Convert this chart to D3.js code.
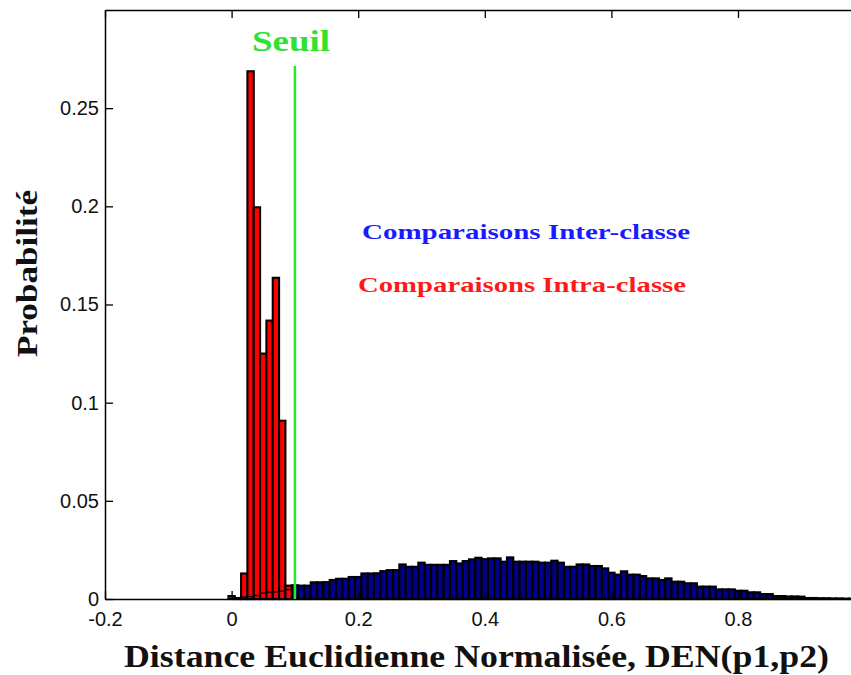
<!DOCTYPE html>
<html>
<head>
<meta charset="utf-8">
<script src="https://cdn.jsdelivr.net/npm/d3@7/dist/d3.min.js"></script>
<style>
  html, body { margin: 0; padding: 0; background: #fff; }
  svg { display: block; }
</style>
</head>
<body>
<svg id="chart" width="851" height="675"></svg>
<script>
// ---- data ----
const binCenters = [0.00,0.01,0.02,0.03,0.04,0.05,0.06,0.07,0.08,0.09,
  0.10,0.11,0.12,0.13,0.14,0.15,0.16,0.17,0.18,0.19,
  0.20,0.21,0.22,0.23,0.24,0.25,0.26,0.27,0.28,0.29,
  0.30,0.31,0.32,0.33,0.34,0.35,0.36,0.37,0.38,0.39,
  0.40,0.41,0.42,0.43,0.44,0.45,0.46,0.47,0.48,0.49,
  0.50,0.51,0.52,0.53,0.54,0.55,0.56,0.57,0.58,0.59,
  0.60,0.61,0.62,0.63,0.64,0.65,0.66,0.67,0.68,0.69,
  0.70,0.71,0.72,0.73,0.74,0.75,0.76,0.77,0.78,0.79,
  0.80,0.81,0.82,0.83,0.84,0.85,0.86,0.87,0.88,0.89,
  0.90,0.91,0.92,0.93,0.94,0.95,0.96,0.97,0.98];

const interValues = [0,0.0003,0.0010,0.0012,0.0018,0.0030,0.0035,0.0036,0.0040,0.0048,
  0.0070,0.0068,0.0068,0.0085,0.0085,0.0086,0.0097,0.0103,0.0103,0.0112,
  0.0112,0.0130,0.0130,0.0131,0.0142,0.0147,0.0147,0.0176,0.0164,0.0164,
  0.0185,0.0174,0.0174,0.0174,0.0174,0.0193,0.0181,0.0193,0.0202,0.0210,
  0.0203,0.0207,0.0207,0.0190,0.0212,0.0190,0.0190,0.0190,0.0190,0.0185,
  0.0185,0.0195,0.0185,0.0164,0.0164,0.0176,0.0176,0.0168,0.0168,0.0156,
  0.0134,0.0124,0.0141,0.0124,0.0124,0.0117,0.0105,0.0105,0.0097,0.0105,
  0.0088,0.0088,0.0080,0.0080,0.0063,0.0063,0.0063,0.0049,0.0049,0.0049,
  0.0042,0.0042,0.0034,0.0034,0.0025,0.0025,0.0015,0.0015,0.0013,0.0013,
  0.0012,0.0005,0.0005,0.0004,0.0004,0.0003,0.0003,0.0002,0.0002];

const intraCenters = [0.00,0.01,0.02,0.03,0.04,0.05,0.06,0.07,0.08,0.09];
const intraValues  = [0.0015,0.0005,0.0130,0.2688,0.1995,0.1250,0.1418,0.1636,0.0908,0.0068];

const threshold = 0.1;
const xTicks = [-0.2, 0, 0.2, 0.4, 0.6, 0.8];
const xTickLabels = ["-0.2", "0", "0.2", "0.4", "0.6", "0.8"];
const yTicks = [0, 0.05, 0.1, 0.15, 0.2, 0.25];
const yTickLabels = ["0", "0.05", "0.1", "0.15", "0.2", "0.25"];
const binWidth = 0.01;

const xTitle = "Distance Euclidienne Normalisée, DEN(p1,p2)";
const yTitle = "Probabilité";
const seuilLabel = "Seuil";
const interLabel = "Comparaisons Inter-classe";
const intraLabel = "Comparaisons Intra-classe";

// ---- layout ----
const svg = d3.select("#chart");
const plotLeft = 105, plotTop = 10, plotBottom = 599;
const x = d3.scaleLinear().domain([-0.2, 1.0]).range([plotLeft, plotLeft + 1.2 * 633]);
const y = d3.scaleLinear().domain([0, 0.3]).range([plotBottom, plotTop]);

const inter = binCenters.map((c, i) => ({c, v: interValues[i]}));
const intra = intraCenters.map((c, i) => ({c, v: intraValues[i]}));

// inter-class bars
svg.append("g").selectAll("rect").data(inter).join("rect")
  .attr("x", d => x(d.c - binWidth / 2))
  .attr("width", d => x(d.c + binWidth / 2) - x(d.c - binWidth / 2))
  .attr("y", d => y(d.v))
  .attr("height", d => y(0) - y(d.v))
  .attr("fill", "#000088")
  .attr("stroke", "#000")
  .attr("stroke-width", 2.1);

// intra-class bars
svg.append("g").selectAll("rect").data(intra).join("rect")
  .attr("x", d => x(d.c - binWidth / 2))
  .attr("width", d => x(d.c + binWidth / 2) - x(d.c - binWidth / 2))
  .attr("y", d => y(d.v))
  .attr("height", d => y(0) - y(d.v))
  .attr("fill", "#ff0000")
  .attr("stroke", "#000")
  .attr("stroke-width", 2.1);

// edges of the inter-class bars visible through the intra-class bars
svg.append("g").selectAll("line").data(inter.filter(d => d.c >= 0.02 && d.c <= 0.09)).join("line")
  .attr("x1", d => x(d.c - binWidth / 2))
  .attr("x2", d => x(d.c + binWidth / 2))
  .attr("y1", d => y(d.v))
  .attr("y2", d => y(d.v))
  .attr("stroke", "#000")
  .attr("stroke-width", 1.3);

// axes
const fmtX = d => xTickLabels[xTicks.indexOf(d)];
const fmtY = d => yTickLabels[yTicks.indexOf(d)];

const gx = svg.append("g").attr("transform", `translate(0,${plotBottom})`)
  .call(d3.axisBottom(x).tickValues(xTicks).tickFormat(fmtX).tickSizeInner(-8).tickSizeOuter(0).tickPadding(13));
const gxt = svg.append("g").attr("transform", `translate(0,${plotTop})`)
  .call(d3.axisTop(x).tickValues(xTicks).tickFormat("").tickSizeInner(-8).tickSizeOuter(0));
const gy = svg.append("g").attr("transform", `translate(${plotLeft},0)`)
  .call(d3.axisLeft(y).tickValues(yTicks).tickFormat(fmtY).tickSizeInner(-8).tickSizeOuter(0).tickPadding(6));

[gx, gxt, gy].forEach(g => {
  g.select(".domain").attr("stroke", "#000").attr("stroke-width", 1.5);
  g.selectAll(".tick line").attr("stroke", "#000").attr("stroke-width", 1.3);
  g.selectAll("text").attr("font-family", "'Liberation Sans', Arial, sans-serif")
    .attr("font-size", 20).attr("fill", "#111");
});

// threshold line
svg.append("line")
  .attr("x1", x(threshold)).attr("x2", x(threshold))
  .attr("y1", 66).attr("y2", y(0))
  .attr("stroke", "#22ee22").attr("stroke-width", 2.5);

// texts
const serif = "'Liberation Serif', 'Times New Roman', serif";
svg.append("text")
  .attr("x", 252).attr("y", 51)
  .attr("font-family", serif).attr("font-weight", "bold").attr("font-size", 30)
  .attr("fill", "#2fe22f")
  .attr("textLength", 78).attr("lengthAdjust", "spacingAndGlyphs")
  .text(seuilLabel);

svg.append("text")
  .attr("x", 362).attr("y", 238.5)
  .attr("font-family", serif).attr("font-weight", "bold").attr("font-size", 22)
  .attr("fill", "#1a1aff")
  .attr("textLength", 328).attr("lengthAdjust", "spacingAndGlyphs")
  .text(interLabel);

svg.append("text")
  .attr("x", 358).attr("y", 292)
  .attr("font-family", serif).attr("font-weight", "bold").attr("font-size", 22)
  .attr("fill", "#ff1a1a")
  .attr("textLength", 328).attr("lengthAdjust", "spacingAndGlyphs")
  .text(intraLabel);

svg.append("text")
  .attr("x", 124).attr("y", 667)
  .attr("font-family", serif).attr("font-weight", "bold").attr("font-size", 31)
  .attr("fill", "#111")
  .attr("textLength", 705).attr("lengthAdjust", "spacingAndGlyphs")
  .text(xTitle);

svg.append("text")
  .attr("transform", "translate(37,357) rotate(-90)")
  .attr("x", 0).attr("y", 0)
  .attr("font-family", serif).attr("font-weight", "bold").attr("font-size", 30)
  .attr("fill", "#111")
  .attr("textLength", 167).attr("lengthAdjust", "spacingAndGlyphs")
  .text(yTitle);
</script>
</body>
</html>
